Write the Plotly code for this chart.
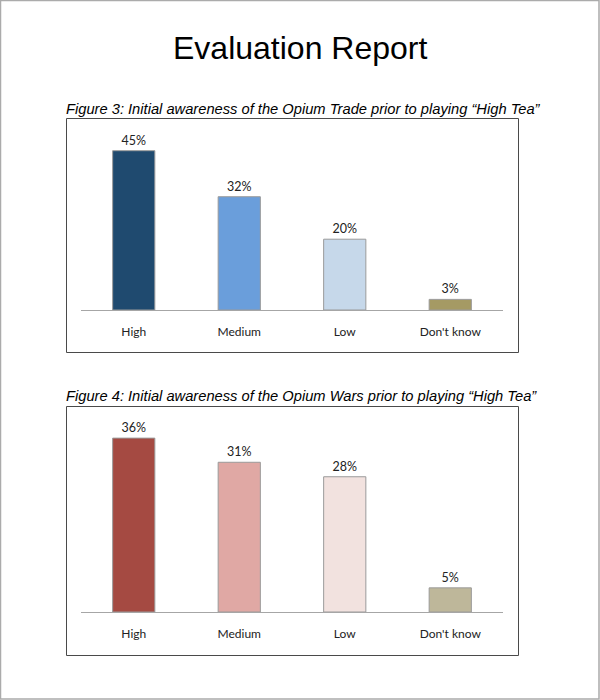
import plotly.graph_objects as go

categories = ["High", "Medium", "Low", "Don't know"]
trade_values = [45, 32, 20, 3]
wars_values = [36, 31, 28, 5]
trade_colors = ["#1f4a6f", "#6a9edb", "#c6d8ea", "#a59a64"]
wars_colors = ["#a54a42", "#e0a8a4", "#f2e2df", "#beb79a"]
title_text = "Evaluation Report"
caption3 = "Figure 3: Initial awareness of the Opium Trade prior to playing \u201cHigh Tea\u201d"
caption4 = "Figure 4: Initial awareness of the Opium Wars prior to playing \u201cHigh Tea\u201d"

W, H = 600, 700
def px(x):
    return x / W
def py(y):
    return 1 - y / H

fig = go.Figure()

fig.add_trace(go.Bar(
    x=categories, y=trade_values, marker=dict(color=trade_colors, line=dict(color="#9a9a9a", width=1)),
    width=0.4, texttemplate="%{y}%", textposition="outside", cliponaxis=False,
    textfont=dict(family="Lato", size=12.5, color="#222"), xaxis="x", yaxis="y", showlegend=False,
))
fig.add_trace(go.Bar(
    x=categories, y=wars_values, marker=dict(color=wars_colors, line=dict(color="#9a9a9a", width=1)),
    width=0.4, texttemplate="%{y}%", textposition="outside", cliponaxis=False,
    textfont=dict(family="Lato", size=12.5, color="#222"), xaxis="x2", yaxis="y2", showlegend=False,
))

xcommon = dict(showline=True, linecolor="#a6a6a6", linewidth=1, ticks="", showgrid=False,
               tickfont=dict(family="Lato", size=12, color="#222"), ticklabelstandoff=11,
               fixedrange=True, zeroline=False)
ycommon = dict(visible=False, showgrid=False, zeroline=False, fixedrange=True)

fig.update_layout(
    width=W, height=H, margin=dict(l=0, r=0, t=0, b=0),
    paper_bgcolor="white", plot_bgcolor="rgba(0,0,0,0)",
    xaxis=dict(domain=[px(81), px(503)], anchor="y", **xcommon),
    yaxis=dict(domain=[py(310), py(118)], range=[0, 192 / 3.54], anchor="x", **ycommon),
    xaxis2=dict(domain=[px(81), px(503)], anchor="y2", **xcommon),
    yaxis2=dict(domain=[py(612), py(406)], range=[0, 206 / 4.83], anchor="x2", **ycommon),
    bargap=0.6,
)

shapes = [
    dict(type="rect", xref="paper", yref="paper", x0=px(0.5), x1=px(599), y0=py(699), y1=py(0.5),
         line=dict(color="#ababab", width=1.5)),
    dict(type="rect", xref="paper", yref="paper", x0=px(66.5), x1=px(518.5), y0=py(352.5), y1=py(118.5),
         line=dict(color="#4a4a4a", width=1)),
    dict(type="rect", xref="paper", yref="paper", x0=px(66.5), x1=px(518.5), y0=py(655.5), y1=py(406.5),
         line=dict(color="#4a4a4a", width=1)),
]
fig.update_layout(shapes=shapes)

annotations = [
    dict(text=title_text, xref="paper", yref="paper", x=0.5, y=py(48), xanchor="center", yanchor="middle",
         showarrow=False, font=dict(family="Liberation Sans", size=32, color="#000")),
    dict(text=caption3, xref="paper", yref="paper", x=px(64), y=py(109), xanchor="left", yanchor="middle",
         showarrow=False, font=dict(family="Liberation Sans", size=14.7, color="#000", style="italic")),
    dict(text=caption4, xref="paper", yref="paper", x=px(64), y=py(396), xanchor="left", yanchor="middle",
         showarrow=False, font=dict(family="Liberation Sans", size=14.7, color="#000", style="italic")),
]
fig.update_layout(annotations=annotations)

fig.write_html("out.html")
